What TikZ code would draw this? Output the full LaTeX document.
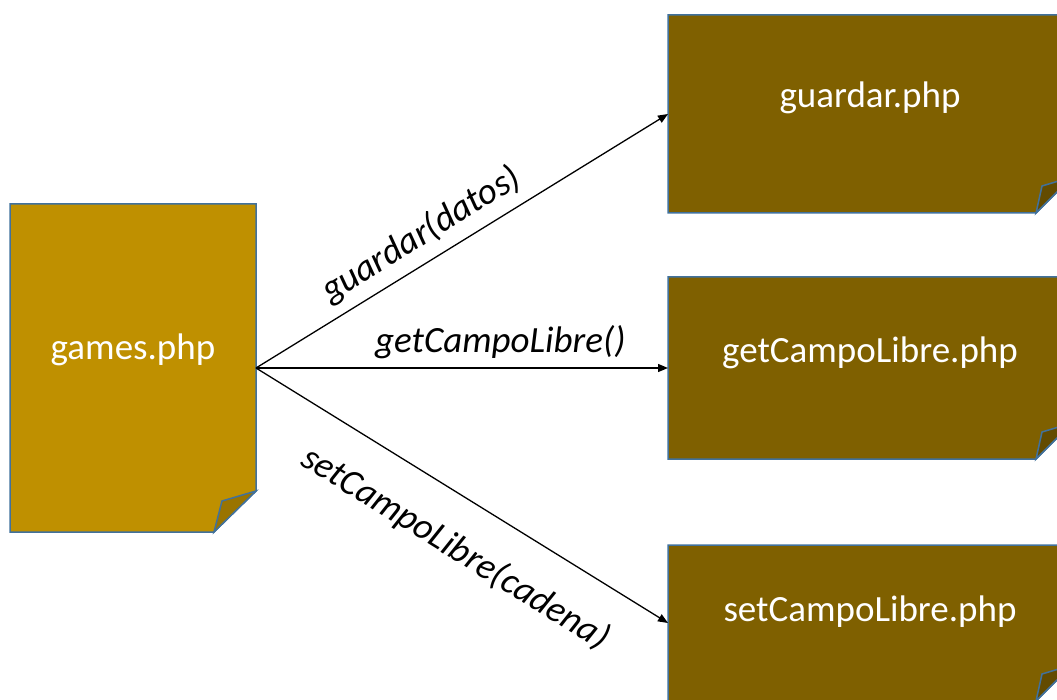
\documentclass[tikz,border=0pt]{standalone}
\usepackage{fontspec}
\setmainfont{Carlito}
\usetikzlibrary{arrows.meta}
\definecolor{goldfill}{HTML}{BF9000}
\definecolor{golddark}{HTML}{9A7400}
\definecolor{brownfill}{HTML}{7F6000}
\definecolor{browndark}{HTML}{634B00}
\definecolor{edgeblue}{HTML}{41719C}
\begin{document}
\begin{tikzpicture}[x=1pt,y=-1pt,
  frame/.style={inner sep=0pt,outer sep=0pt},
  edgeline/.style={draw=edgeblue,line width=1.5pt,line join=miter},
  boxtext/.style={text=white,font=\fontsize{37}{44}\selectfont,inner sep=0pt},
  msg/.style={font=\fontsize{37}{44}\itshape\selectfont,text=black,sloped},
  arr/.style={-{Triangle[length=10pt,width=8pt]},line width=1.3pt,black}]
\useasboundingbox (0,0) rectangle (1057,700);

% games.php
\node[frame,minimum width=246pt,minimum height=328pt] (games) at (133,368) {};
\path[fill=goldfill,edgeline] (games.north west) -- (games.north east)
  -- ([yshift=41pt]games.south east) -- ([xshift=-42pt]games.south east)
  -- (games.south west) -- cycle;
\path[fill=golddark,edgeline] ([xshift=-42pt]games.south east)
  -- ([xshift=-34pt,yshift=31pt]games.south east)
  -- ([yshift=41pt]games.south east) -- cycle;
\node[boxtext] (gamesT) at ([yshift=18pt]games.center) {games.php};

% right boxes
\node[frame,minimum width=404pt,minimum height=198pt] (guardar) at (870,114) {};
\node[frame,minimum width=404pt,minimum height=182pt] (getcampo) at (870,368) {};
\node[frame,minimum width=404pt,minimum height=156pt] (setcampo) at (870,623) {};
\foreach \b in {guardar,getcampo,setcampo}{
  \path[fill=brownfill,edgeline] (\b.north west) -- (\b.north east)
    -- ([yshift=36pt]\b.south east) -- ([xshift=-36pt]\b.south east)
    -- (\b.south west) -- cycle;
  \path[fill=browndark,edgeline] ([xshift=-36pt]\b.south east)
    -- ([xshift=-30pt,yshift=27pt]\b.south east)
    -- ([yshift=36pt]\b.south east) -- cycle;
}
\node[boxtext] (guardarT) at ([yshift=16pt]guardar.center) {guardar.php};
\node[boxtext] (getcampoT) at ([yshift=15pt]getcampo.center) {getCampoLibre.php};
\node[boxtext] (setcampoT) at ([yshift=11pt]setcampo.center) {setCampoLibre.php};

% connectors
\draw[arr] (games.east) -- node[msg,pos=0.435,above=6pt] (m1) {guardar(datos)} (guardar.west);
\draw[arr] (games.east) -- node[msg,pos=0.593,above=5pt] (m2) {getCampoLibre()} (getcampo.west);
\draw[arr] (games.east) -- node[msg,pos=0.546,below=28pt] (m3) {setCampoLibre(cadena)} (setcampo.west);
\end{tikzpicture}
\end{document}
